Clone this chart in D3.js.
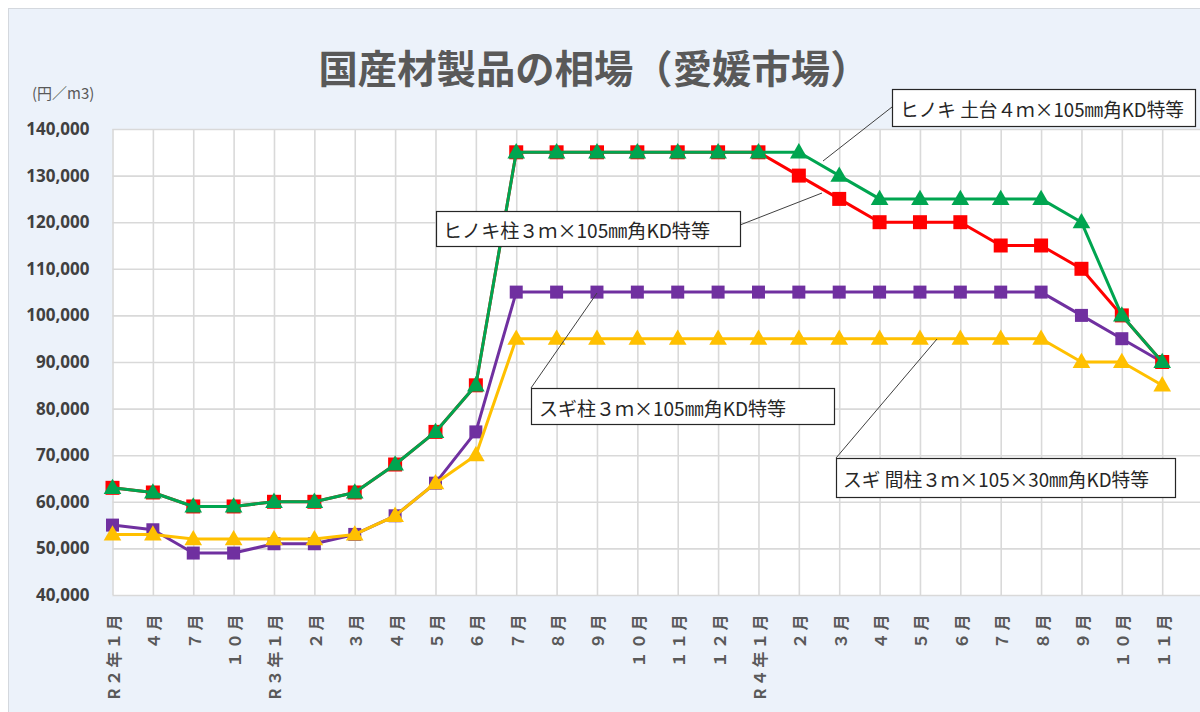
<!DOCTYPE html>
<html lang="ja">
<head>
<meta charset="utf-8">
<title>国産材製品の相場（愛媛市場）</title>
<script src="https://cdn.jsdelivr.net/npm/d3@7"></script>
<style>
  html, body { margin: 0; padding: 0; background: #ffffff; }
  svg { display: block; }
</style>
</head>
<body>
<svg id="chart" width="1200" height="712"></svg>
<script>
// Months on the category axis (R2 quarterly, then monthly from R3)
const categories = [
  "R２年１月", "４月", "７月", "１０月",
  "R３年１月", "２月", "３月", "４月", "５月", "６月", "７月", "８月", "９月", "１０月", "１１月", "１２月",
  "R４年１月", "２月", "３月", "４月", "５月", "６月", "７月", "８月", "９月", "１０月", "１１月"
];

// Prices (円/m3)
const hinokiHashira = [
  63000, 62000, 59000, 59000,
  60000, 60000, 62000, 68000, 75000, 85000, 135000, 135000, 135000, 135000, 135000, 135000,
  135000, 130000, 125000, 120000, 120000, 120000, 115000, 115000, 110000, 100000, 90000
];
const hinokiDodai = [
  63000, 62000, 59000, 59000,
  60000, 60000, 62000, 68000, 75000, 85000, 135000, 135000, 135000, 135000, 135000, 135000,
  135000, 135000, 130000, 125000, 125000, 125000, 125000, 125000, 120000, 100000, 90000
];
const sugiHashira = [
  55000, 54000, 49000, 49000,
  51000, 51000, 53000, 57000, 64000, 75000, 105000, 105000, 105000, 105000, 105000, 105000,
  105000, 105000, 105000, 105000, 105000, 105000, 105000, 105000, 100000, 95000, 90000
];
const sugiMabashira = [
  53000, 53000, 52000, 52000,
  52000, 52000, 53000, 57000, 64000, 70000, 95000, 95000, 95000, 95000, 95000, 95000,
  95000, 95000, 95000, 95000, 95000, 95000, 95000, 95000, 90000, 90000, 85000
];

const seriesNames = [
  "ヒノキ柱３ｍ×105㎜角KD特等",
  "ヒノキ 土台４ｍ×105㎜角KD特等",
  "スギ柱３ｍ×105㎜角KD特等",
  "スギ 間柱３ｍ×105×30㎜角KD特等"
];

const yTicks = [40000, 50000, 60000, 70000, 80000, 90000, 100000, 110000, 120000, 130000, 140000];

const titleText = "国産材製品の相場（愛媛市場）";
const unitText = "(円／m3)";

// ---- layout ----
const plot = { left: 112.5, right: 1162.2, top: 129, bottom: 595, edge: 1205 };
const svg = d3.select("#chart");

const x = d3.scaleLinear().domain([0, categories.length - 1]).range([plot.left, plot.right]);
const y = d3.scaleLinear().domain([40000, 140000]).range([plot.bottom, plot.top]);

// chart area background
svg.append("rect")
  .attr("x", 8.5).attr("y", 8.5)
  .attr("width", 1200).attr("height", 712)
  .attr("fill", "#ecf2fa")
  .attr("stroke", "#d4d8de")
  .attr("stroke-width", 1);

// plot area
svg.append("rect")
  .attr("x", plot.left).attr("y", plot.top)
  .attr("width", plot.edge - plot.left).attr("height", plot.bottom - plot.top)
  .attr("fill", "#ffffff");

// horizontal gridlines
svg.append("g")
  .attr("transform", `translate(${plot.left},0)`)
  .call(d3.axisLeft(y).tickValues(yTicks).tickSize(-(plot.edge - plot.left)).tickFormat(""))
  .call(g => g.select(".domain").remove())
  .call(g => g.selectAll("line").attr("stroke", "#d9d9d9").attr("stroke-width", 1.6));

// vertical gridlines
svg.append("g")
  .attr("transform", `translate(0,${plot.top})`)
  .call(d3.axisBottom(x).tickValues(d3.range(categories.length)).tickSize(plot.bottom - plot.top).tickFormat(""))
  .call(g => g.select(".domain").remove())
  .call(g => g.selectAll("line").attr("stroke", "#d9d9d9").attr("stroke-width", 1.6));

// y axis labels
svg.append("g")
  .attr("transform", `translate(${plot.left},0)`)
  .call(d3.axisLeft(y).tickValues(yTicks).tickSize(0).tickPadding(23).tickFormat(d3.format(",")))
  .call(g => g.select(".domain").remove())
  .call(g => g.selectAll("text")
    .attr("fill", "#404040")
    .style("font-family", "'Noto Sans', 'Open Sans', sans-serif")
    .style("font-weight", "700")
    .style("font-size", "17px"));

// x axis labels (vertical)
svg.append("g")
  .attr("transform", `translate(0,${plot.bottom})`)
  .call(d3.axisBottom(x).tickValues(d3.range(categories.length)).tickSize(0).tickFormat(i => categories[i]))
  .call(g => g.select(".domain").remove())
  .call(g => g.selectAll("text")
    .attr("transform", "rotate(-90)")
    .attr("x", -17)
    .attr("y", 0)
    .attr("dy", null)
    .attr("text-anchor", "end")
    .attr("dominant-baseline", "central")
    .attr("fill", "#595959")
    .style("letter-spacing", "2.5px")
    .style("font-family", "'Noto Sans CJK JP', sans-serif")
    .style("font-weight", "700")
    .style("font-size", "16px"));

// title and unit
svg.append("text")
  .attr("x", 594).attr("y", 66)
  .attr("text-anchor", "middle")
  .attr("dominant-baseline", "central")
  .attr("textLength", 551).attr("lengthAdjust", "spacingAndGlyphs")
  .attr("fill", "#595959")
  .style("font-family", "'Noto Sans CJK JP', sans-serif")
  .style("font-weight", "700")
  .style("font-size", "39px")
  .text(titleText);

svg.append("text")
  .attr("x", 32).attr("y", 92)
  .attr("dominant-baseline", "central")
  .attr("fill", "#595959")
  .style("font-family", "'Noto Sans CJK JP', sans-serif")
  .style("font-size", "15px")
  .text(unitText);

// series (スギ drawn first so the ヒノキ markers sit on top where they meet)
const series = [
  { values: sugiHashira, color: "#7030a0", shape: d3.symbolSquare, size: 169 },
  { values: sugiMabashira, color: "#ffc000", shape: d3.symbolTriangle, size: 135 },
  { values: hinokiHashira, color: "#ff0000", shape: d3.symbolSquare, size: 196 },
  { values: hinokiDodai, color: "#00a550", shape: d3.symbolTriangle, size: 135 }
];

const line = d3.line().x((d, i) => x(i)).y(d => y(d));

series.forEach(s => {
  const g = svg.append("g");
  g.append("path")
    .attr("d", line(s.values))
    .attr("fill", "none")
    .attr("stroke", s.color)
    .attr("stroke-width", 3)
    .attr("stroke-linejoin", "round");
  g.selectAll("path.mark")
    .data(s.values)
    .join("path")
    .attr("class", "mark")
    .attr("d", d3.symbol().type(s.shape).size(s.size))
    .attr("transform", (d, i) => `translate(${x(i)},${y(d) + (s.shape === d3.symbolTriangle ? 1 : 0)})`)
    .attr("fill", s.color);
});

// callout labels with leader lines
const callouts = [
  { name: seriesNames[1], box: [892, 89, 303, 37], textX: 900, textW: 284, lead: [[892, 107], [823, 161]] },
  { name: seriesNames[0], box: [436, 211, 304, 35], textX: 443, textW: 267, lead: [[740, 225], [822, 193]] },
  { name: seriesNames[2], box: [531, 388, 303, 36], textX: 539, textW: 247, lead: [[531, 388], [597, 293]] },
  { name: seriesNames[3], box: [836, 458, 339, 39], textX: 843, textW: 306, lead: [[836, 458], [937, 339]] }
];

callouts.forEach(c => {
  svg.append("line")
    .attr("x1", c.lead[0][0]).attr("y1", c.lead[0][1])
    .attr("x2", c.lead[1][0]).attr("y2", c.lead[1][1])
    .attr("stroke", "#404040").attr("stroke-width", 1);
  svg.append("rect")
    .attr("x", c.box[0] + 0.5).attr("y", c.box[1] + 0.5)
    .attr("width", c.box[2]).attr("height", c.box[3])
    .attr("fill", "#ffffff")
    .attr("stroke", "#262626").attr("stroke-width", 1.2);
  svg.append("text")
    .attr("x", c.textX).attr("y", c.box[1] + c.box[3] / 2 + 1)
    .attr("dominant-baseline", "central")
    .attr("textLength", c.textW).attr("lengthAdjust", "spacingAndGlyphs")
    .attr("fill", "#262626")
    .style("font-family", "'Noto Sans CJK JP', sans-serif")
    .style("font-size", "19px")
    .text(c.name);
});
</script>
</body>
</html>
